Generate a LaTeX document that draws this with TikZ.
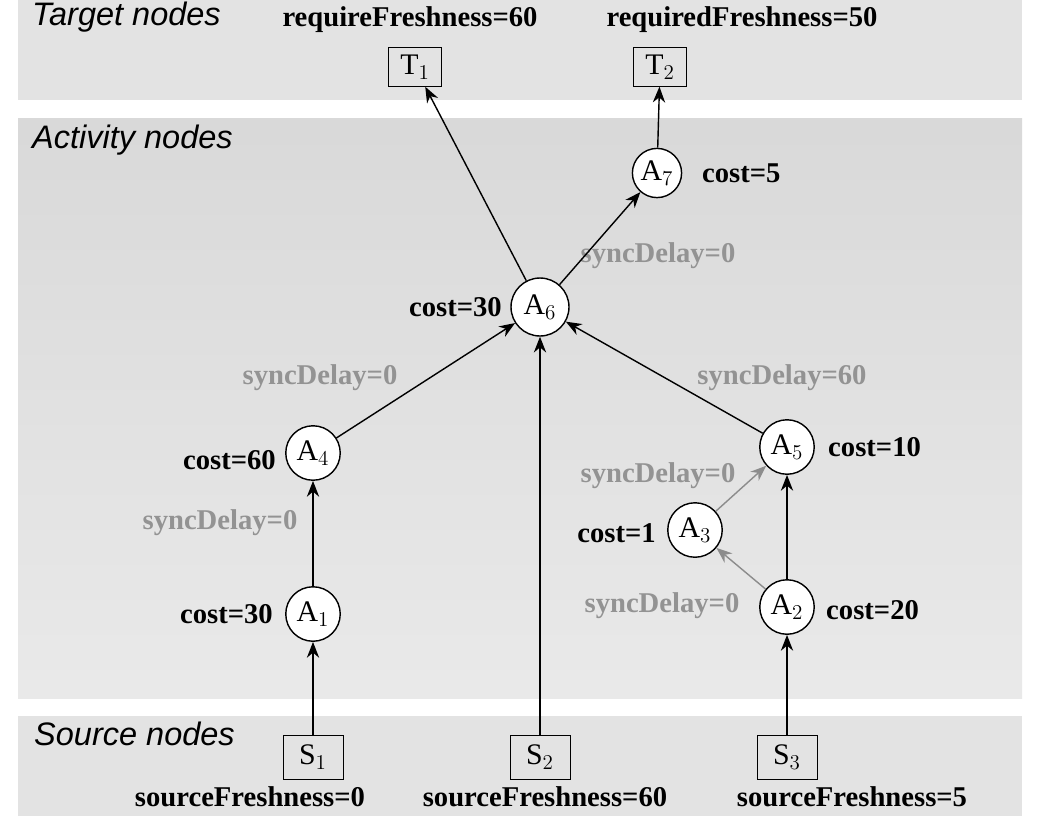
\documentclass[tikz,border=0pt]{standalone}
\usepackage{fontspec}
\setmainfont{Liberation Serif}
\newfontfamily\lsans{Liberation Sans}
\usetikzlibrary{arrows.meta}
\begin{document}
\begin{tikzpicture}[x=0.02cm,y=-0.02cm,
  act/.style={circle,draw,thick,fill=white,minimum size=31pt,inner sep=0,font=\fontsize{17}{17}\selectfont},
  box/.style={rectangle,draw,fill=none,minimum width=30pt,minimum height=22pt,inner sep=1,font=\fontsize{17}{17}\selectfont},
  lab/.style={font=\fontsize{16.3}{17}\selectfont\bfseries},
  glab/.style={lab,text=gray!85},
  band/.style={font=\lsans\itshape\fontsize{18.5}{19}\selectfont,anchor=west},
  e/.style={-{Stealth[length=9pt,width=7pt]},thick},
  ge/.style={e,draw=gray!90}]
\useasboundingbox (0,0) rectangle (1045,816);
\fill[gray!22] (18,0) rectangle (1022,100);
\shade[top color=gray!30,bottom color=gray!17] (18,118) rectangle (1022,698);
\fill[gray!22] (18,716) rectangle (1022,816);
\node[band] (tb) at (26,17) {Target nodes};
\node[band] (ab) at (26,140) {Activity nodes};
\node[band] (sb) at (28,734) {Source nodes};
\node[box] (T1) at (415,67) {T$_1$};
\node[box] (T2) at (660,67) {T$_2$};
\node[act,minimum size=28pt] (A7) at (657,173) {A$_7$};
\node[act,minimum size=33pt] (A6) at (540,307) {A$_6$};
\node[act] (A4) at (313,453) {A$_4$};
\node[act] (A1) at (313,614) {A$_1$};
\node[act] (A5) at (787,447) {A$_5$};
\node[act] (A3) at (695,530) {A$_3$};
\node[act] (A2) at (787,607) {A$_2$};
\node[box,minimum width=34pt,minimum height=25pt] (S1) at (313,757) {S$_1$};
\node[box,minimum width=34pt,minimum height=25pt] (S2) at (540,757) {S$_2$};
\node[box,minimum width=34pt,minimum height=25pt] (S3) at (787,757) {S$_3$};
\node[lab] (l1) at (410,20) {requireFreshness=60};
\node[lab] (l2) at (742,20) {requiredFreshness=50};
\node[lab,anchor=west] (l3) at (696,173) {cost=5};
\node[lab,anchor=east] (l4) at (508,307) {cost=30};
\node[glab] (l5) at (658,256) {syncDelay=0};
\node[glab] (l6) at (320,378) {syncDelay=0};
\node[glab] (l7) at (782,378) {syncDelay=60};
\node[lab,anchor=east] (l8) at (282,460) {cost=60};
\node[lab,anchor=west] (l9) at (822,447) {cost=10};
\node[glab] (l10) at (658,476) {syncDelay=0};
\node[glab] (l11) at (220,523) {syncDelay=0};
\node[lab,anchor=east] (l12) at (662,533) {cost=1};
\node[lab,anchor=east] (l13) at (279,614) {cost=30};
\node[glab] (l14) at (662,606) {syncDelay=0};
\node[lab,anchor=west] (l15) at (820,610) {cost=20};
\node[lab] (l16) at (250,797) {sourceFreshness=0};
\node[lab] (l17) at (545,797) {sourceFreshness=60};
\node[lab] (l18) at (852,797) {sourceFreshness=5};
\draw[e] (A6) -- (T1);
\draw[e] (A6) -- (A7);
\draw[e] (A7) -- (T2);
\draw[e] (A4) -- (A6);
\draw[e] (S2) -- (A6);
\draw[e] (A5) -- (A6);
\draw[e] (A1) -- (A4);
\draw[e] (S1) -- (A1);
\draw[e] (S3) -- (A2);
\draw[e] (A2) -- (A5);
\draw[ge] (A2) -- (A3);
\draw[ge] (A3) -- (A5);
\end{tikzpicture}
\end{document}
